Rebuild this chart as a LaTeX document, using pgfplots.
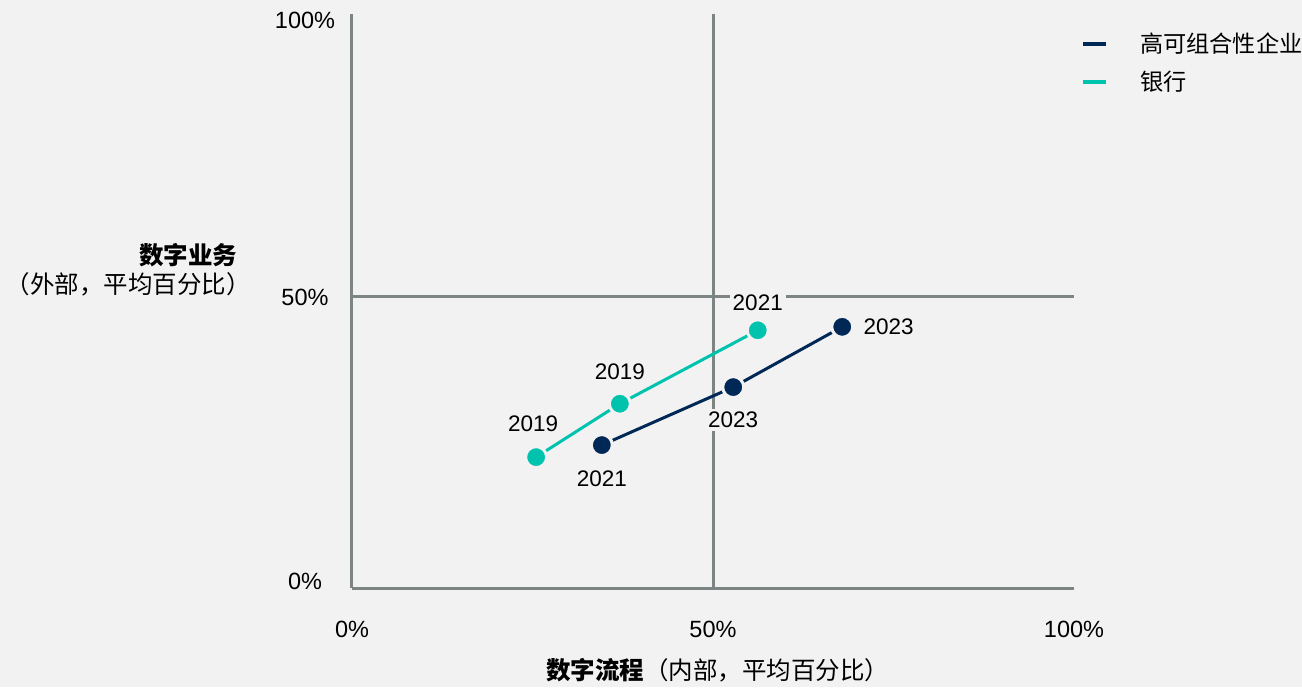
\documentclass[border=0pt]{standalone}
\usepackage{fontspec}
\usepackage{pgfplots}
\pgfplotsset{compat=1.18}
\setmainfont{Liberation Sans}
\newfontfamily\cjk{Noto Sans CJK SC}
\definecolor{bg}{HTML}{F2F2F2}
\definecolor{axgray}{HTML}{7C8584}
\definecolor{navyc}{HTML}{002856}
\definecolor{tealc}{HTML}{00C3AE}
\newcommand{\numfont}{\fontsize{11.25}{13}\selectfont}
\newcommand{\tickfont}{\fontsize{11.75}{13}\selectfont}
\newcommand{\cjkfont}{\fontsize{12.25}{14}\selectfont\cjk}
\newcommand{\legfont}{\fontsize{11.6}{14}\selectfont\cjk}
\begin{document}
\begin{tikzpicture}[x=1pt,y=1pt]
\fill[bg, use as bounding box] (-176,-49.5) rectangle (475,294);
\begin{axis}[
  at={(0,0)}, anchor=south west,
  scale only axis, width=361pt, height=287pt,
  xmin=0, xmax=100, ymin=0, ymax=100,
  axis lines*=left,
  axis line style={draw=axgray, line width=1.5pt, -},
  xtick={0,50,100}, xticklabels={0\%,50\%,100\%},
  ytick={1.2,50.7,98.9}, yticklabels={0\%,50\%,100\%},
  major tick length=0pt,
  tick label style={font=\tickfont, /pgf/number format/assume math mode=true},
  xticklabel style={yshift=-13pt},
  yticklabel style={anchor=center, xshift=-23.5pt},
  clip=false,
  legend style={at={(1.001,0.979)}, anchor=north west, draw=none, fill=none,
    font=\legfont, row sep=6pt, nodes={inner sep=1pt}},
  legend cell align=left,
  legend image code/.code={\draw[line width=2pt] (0pt,0pt) -- (11.5pt,0pt); \path[draw=none] (0pt,0pt) -- (27.5pt,0pt);},
]
\draw[axgray, line width=1.5pt] (axis cs:50,0) -- (axis cs:50,100);
\draw[axgray, line width=1.5pt] (axis cs:0,50.7) -- (axis cs:100,50.7);
\addplot[navyc, line width=1.5pt, mark=*, mark size=5.25pt,
  mark options={fill=navyc, draw=bg, line width=1.5pt}]
  coordinates {(34.6,24.9) (52.8,35.0) (67.9,45.5)};
\addlegendentry{高可组合性企业}
\addplot[tealc, line width=1.5pt, mark=*, mark size=5.25pt,
  mark options={fill=tealc, draw=bg, line width=1.5pt}]
  coordinates {(25.5,22.8) (37.1,32.1) (56.2,44.9)};
\addlegendentry{银行}
\begin{scope}[every node/.style={fill=bg, inner sep=1.5pt, font=\numfont}]
\node[yshift=16.5pt, xshift=-1.5pt] at (axis cs:25.5,22.8) {2019};
\node[yshift=16pt] at (axis cs:37.1,32.1) {2019};
\node[yshift=14pt] at (axis cs:56.2,44.9) {2021};
\node[yshift=-17pt] at (axis cs:34.6,24.9) {2021};
\node[yshift=-16.5pt] at (axis cs:52.8,35.0) {2023};
\node[anchor=west, xshift=9pt] at (axis cs:67.9,45.5) {2023};
\end{scope}
\end{axis}
\node[inner sep=0pt, font=\cjkfont\bfseries] at (-81.75,166.5) {数字业务};
\node[inner sep=0pt, font=\cjkfont] at (-111.75,152) {（外部，平均百分比）};
\node[inner sep=0pt, font=\cjkfont] at (183,-41) {\textbf{数字流程}（内部，平均百分比）};
\end{tikzpicture}
\end{document}
